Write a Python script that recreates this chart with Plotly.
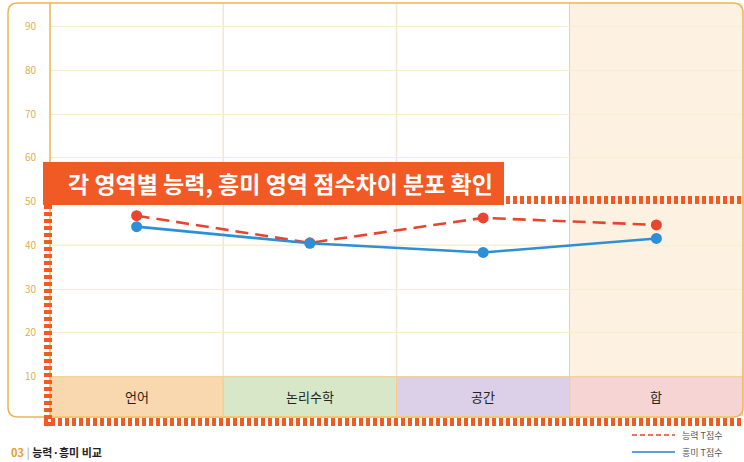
import plotly.graph_objects as go

# ---- data ----
categories = ["언어", "논리수학", "공간", "합"]
ability_t = [46.8, 40.6, 46.3, 44.7]     # 능력 T점수
interest_t = [44.3, 40.5, 38.4, 41.6]    # 흥미 T점수
ytick_values = [10, 20, 30, 40, 50, 60, 70, 80, 90]
band_colors = ["#f9d8b0", "#d9e7c9", "#dbd0e8", "#f6d4d4"]
title_text = "각 영역별 능력, 흥미 영역 점수차이 분포 확인"
legend_names = ["능력 T점수", "흥미 T점수"]
footer_num = "03"
footer_text = "능력·흥미 비교"

W, H = 744, 462
ML, MR, MT, MB = 50, 1, 3, 46
PW, PH = W - ML - MR, H - MT - MB
FONT = "Noto Sans CJK KR"
RED = "#e8452e"
BLUE = "#2d8fd5"
ORANGE = "#f15a24"
FRAME = "#ebb650"


def pxx(px):
    return (px - ML) / PW


def pxy(py):
    return (H - MB - py) / PH


fig = go.Figure()

fig.add_trace(go.Scatter(
    x=categories, y=ability_t, mode="lines+markers", name=legend_names[0],
    line=dict(color=RED, width=2.6, dash="13px,7px"),
    marker=dict(color=RED, size=11), showlegend=False))
fig.add_trace(go.Scatter(
    x=categories, y=interest_t, mode="lines+markers", name=legend_names[1],
    line=dict(color=BLUE, width=2.6),
    marker=dict(color=BLUE, size=11), showlegend=False))

shapes = []
n = len(categories)

# shaded total column
shapes.append(dict(type="rect", xref="x", yref="y", x0=n - 1.5, x1=n - 0.5,
                   y0=10, y1=100, fillcolor="#fdf1e2", line_width=0, layer="below"))

# column dividers
for i in range(1, n):
    col = "#f2c46e" if i == n - 1 else "#efe7d3"
    shapes.append(dict(type="line", xref="x", yref="paper", x0=i - 0.5, x1=i - 0.5,
                       y0=0, y1=1, line=dict(color=col, width=1.5), layer="between"))

# category band
for i, c in enumerate(band_colors):
    shapes.append(dict(type="rect", xref="x", yref="y", x0=i - 0.5, x1=i + 0.5,
                       y0=0, y1=10, fillcolor=c,
                       line=dict(color="#f3cd8a", width=1), layer="between"))
shapes.append(dict(type="line", xref="paper", yref="y", x0=0, x1=1, y0=10, y1=10,
                   line=dict(color="#efbf5e", width=1.5), layer="between"))

# stronger guide at 40
shapes.append(dict(type="line", xref="paper", yref="y", x0=0, x1=1, y0=40, y1=40,
                   line=dict(color="#ece09e", width=1.2), layer="between"))

# y-label column divider
shapes.append(dict(type="line", xref="paper", yref="paper", x0=0, x1=0,
                   y0=pxy(416), y1=pxy(3), line=dict(color=FRAME, width=1.5)))

# rounded outer frame
r = 10
x0, x1, y0, y1 = 8, 743, 3, 417
path = (f"M {pxx(x0 + r)},{pxy(y0)} L {pxx(x1 - r)},{pxy(y0)} "
        f"Q {pxx(x1)},{pxy(y0)} {pxx(x1)},{pxy(y0 + r)} "
        f"L {pxx(x1)},{pxy(y1 - r)} Q {pxx(x1)},{pxy(y1)} {pxx(x1 - r)},{pxy(y1)} "
        f"L {pxx(x0 + r)},{pxy(y1)} Q {pxx(x0)},{pxy(y1)} {pxx(x0)},{pxy(y1 - r)} "
        f"L {pxx(x0)},{pxy(y0 + r)} Q {pxx(x0)},{pxy(y0)} {pxx(x0 + r)},{pxy(y0)} Z")
shapes.append(dict(type="path", xref="paper", yref="paper", path=path,
                   line=dict(color=FRAME, width=1.5)))

# highlight box (thick dashed) and title banner
dash_style = dict(color=ORANGE, width=8, dash="4px,3px")
shapes.append(dict(type="line", xref="paper", yref="paper", x0=pxx(48), x1=pxx(48),
                   y0=pxy(205), y1=pxy(426), line=dash_style))
shapes.append(dict(type="line", xref="paper", yref="paper", x0=pxx(44), x1=pxx(746),
                   y0=pxy(422), y1=pxy(422), line=dash_style))
shapes.append(dict(type="line", xref="paper", yref="paper", x0=pxx(506), x1=pxx(746),
                   y0=pxy(200), y1=pxy(200), line=dash_style))
shapes.append(dict(type="rect", xref="paper", yref="paper", x0=pxx(43), x1=pxx(504),
                   y0=pxy(205), y1=pxy(162), fillcolor=ORANGE, line_width=0))

# legend samples
shapes.append(dict(type="line", xref="paper", yref="paper", x0=pxx(632), x1=pxx(675),
                   y0=pxy(435), y1=pxy(435),
                   line=dict(color=RED, width=1.5, dash="5px,3px")))
shapes.append(dict(type="line", xref="paper", yref="paper", x0=pxx(632), x1=pxx(675),
                   y0=pxy(452), y1=pxy(452), line=dict(color="#5d9fd6", width=2)))

annotations = []
for i, cat in enumerate(categories):
    annotations.append(dict(x=i, y=5.4, xref="x", yref="y", text=cat, showarrow=False,
                            font=dict(family=FONT, size=13, color="#222222")))
annotations.append(dict(x=pxx(66), y=pxy(183), xref="paper", yref="paper",
                        xanchor="left", yanchor="middle", text=f"<b>{title_text}</b>",
                        showarrow=False, font=dict(family=FONT, size=23, color="white")))
for k, (name, yy) in enumerate(zip(legend_names, [435, 452])):
    annotations.append(dict(x=pxx(680), y=pxy(yy), xref="paper", yref="paper",
                            xanchor="left", yanchor="middle", text=name, showarrow=False,
                            font=dict(family=FONT, size=9, color="#555555")))
annotations.append(dict(x=pxx(9), y=pxy(462), xref="paper", yref="paper",
                        xanchor="left", yanchor="bottom",
                        text=(f"<b><span style='color:#f39a2e'>{footer_num}</span>"
                              f"<span style='color:#bbbbbb'> | </span>{footer_text}</b>"),
                        showarrow=False, font=dict(family=FONT, size=11, color="#222222")))

fig.update_layout(
    width=W, height=H,
    margin=dict(l=ML, r=MR, t=MT, b=MB, pad=0),
    paper_bgcolor="white", plot_bgcolor="white",
    shapes=shapes, annotations=annotations,
    showlegend=False,
    xaxis=dict(range=[-0.5, n - 0.5], showgrid=False, showticklabels=False,
               zeroline=False, showline=False, fixedrange=True),
    yaxis=dict(range=[1.02, 95.42], tickvals=ytick_values, showgrid=True,
               gridcolor="#f6eecf", gridwidth=1, zeroline=False, showline=False,
               ticks="", ticklabelstandoff=13,
               tickfont=dict(family=FONT, size=10, color="#ddb04c"), fixedrange=True),
)

fig.write_html("out.html")
